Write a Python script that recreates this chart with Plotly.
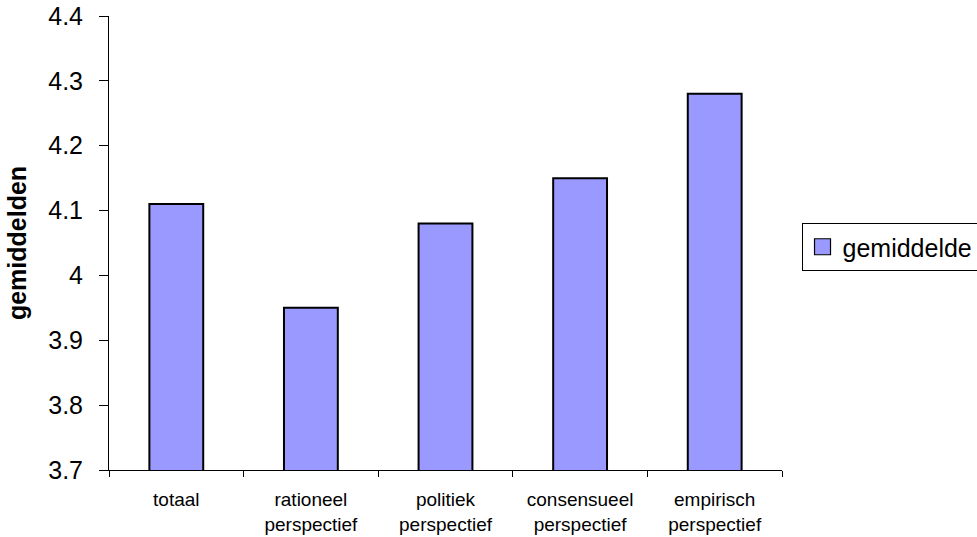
import plotly.graph_objects as go

# Mean scores per perspective
categories = [
    "totaal",
    "rationeel<br>perspectief",
    "politiek<br>perspectief",
    "consensueel<br>perspectief",
    "empirisch<br>perspectief",
]
gemiddelde = [4.11, 3.95, 4.08, 4.15, 4.28]
y_ticks = [3.7, 3.8, 3.9, 4.0, 4.1, 4.2, 4.3, 4.4]
y_tick_labels = ["3.7", "3.8", "3.9", "4", "4.1", "4.2", "4.3", "4.4"]
series_name = "gemiddelde"

FONT = "Liberation Sans, Arial, sans-serif"
BAR_FILL = "#9999FF"

fig = go.Figure()
fig.add_trace(
    go.Bar(
        x=categories,
        y=gemiddelde,
        name=series_name,
        showlegend=False,
        marker=dict(color=BAR_FILL, line=dict(color="#000000", width=2)),
    )
)
# legend entry with a larger swatch than the default bar symbol
fig.add_trace(
    go.Scatter(
        x=[None],
        y=[None],
        mode="markers",
        name=series_name,
        marker=dict(
            symbol="square",
            size=16,
            color=BAR_FILL,
            line=dict(color="#000000", width=1.2),
        ),
    )
)

fig.update_layout(
    width=977,
    height=537,
    margin=dict(l=109, r=195, t=16, b=67, autoexpand=False),
    paper_bgcolor="white",
    plot_bgcolor="white",
    bargap=0.6,
    font=dict(family=FONT, color="black"),
    showlegend=True,
    legend=dict(
        x=1.029,
        xanchor="left",
        y=0.544,
        yanchor="top",
        bordercolor="#000000",
        borderwidth=1,
        font=dict(size=25, family=FONT),
        bgcolor="white",
        itemsizing="trace",
    ),
)

fig.update_xaxes(
    showline=True,
    linecolor="#000000",
    linewidth=1,
    ticks="outside",
    tickson="boundaries",
    ticklen=6,
    tickcolor="#000000",
    tickfont=dict(size=19, family=FONT),
    ticklabelstandoff=12,
    showgrid=False,
    automargin=False,
)

fig.update_yaxes(
    range=[3.7, 4.4],
    tickvals=y_ticks,
    ticktext=y_tick_labels,
    showline=True,
    linecolor="#000000",
    linewidth=1,
    ticks="outside",
    ticklen=9,
    tickcolor="#000000",
    tickfont=dict(size=25, family=FONT),
    ticklabelstandoff=11,
    showgrid=False,
    zeroline=False,
    automargin=False,
    title=dict(
        text="<b>gemiddelden</b>",
        font=dict(size=25, family=FONT),
        standoff=14,
    ),
)

fig.write_html("out.html")
